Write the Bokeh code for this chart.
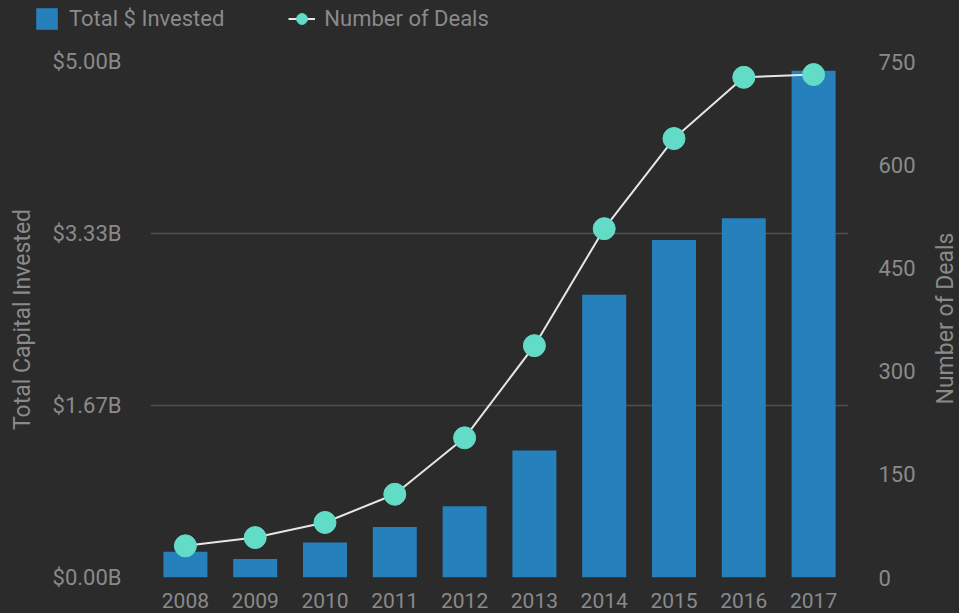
import math
from bokeh.plotting import figure
from bokeh.layouts import column
from bokeh.models import (Range1d, LinearAxis, FixedTicker, CustomJSTickFormatter,
                          Legend, LegendItem, ColumnDataSource, FactorRange, Label)
from bokeh.embed import file_html
from bokeh.resources import INLINE

years = ["2008", "2009", "2010", "2011", "2012", "2013", "2014", "2015", "2016", "2017"]
invested_billions = [0.25, 0.18, 0.34, 0.49, 0.69, 1.23, 2.74, 3.27, 3.48, 4.91]
deals = [46, 58, 80, 121, 203, 337, 507, 638, 727, 731]
left_ticks = [0, 5 / 3, 10 / 3, 5]
right_ticks = [0, 150, 300, 450, 600, 750]
series_names = ["Total $ Invested", "Number of Deals"]

BG = "#2b2b2b"
TXT = "#8a8a8a"
GRID = "#505050"
BAR = "#2580bb"
DOT = "#62dcc6"
LINE = "#e6e6e6"
FONT = "Roboto"

src = ColumnDataSource(dict(year=years, inv=invested_billions, deals=deals))

# ---- legend strip on top (hidden copies of the series, only their legend shows) ----
LEG_H = 40
pl = figure(width=959, height=LEG_H, output_backend="svg", toolbar_location=None,
            x_range=FactorRange(*years), y_range=Range1d(0, 750),
            x_axis_location=None, y_axis_location=None, min_border=0,
            background_fill_color=BG, border_fill_color=BG, outline_line_color=None)
pl.xgrid.grid_line_color = None
pl.ygrid.grid_line_color = None
lb = pl.vbar(x="year", top="inv", width=0.63, source=src, fill_color=BAR, line_color=None)
ll = pl.line(x="year", y="deals", source=src, line_color=LINE, line_width=2)
ls = pl.scatter(x="year", y="deals", source=src, size=22, fill_color=DOT, line_color=DOT)
for r in (lb, ll, ls):
    r.visible = False
legend = Legend(items=[LegendItem(label=series_names[0], renderers=[lb]),
                       LegendItem(label=series_names[1], renderers=[ll, ls])],
                orientation="horizontal", location=(33, 8),
                padding=0, margin=0, spacing=64, label_standoff=9,
                glyph_width=27, glyph_height=27, label_height=21,
                label_text_font=FONT, label_text_font_size="22px", label_text_color=TXT,
                background_fill_alpha=0, border_line_alpha=0, inactive_fill_alpha=0)
pl.add_layout(legend, "center")

# ---- main chart ----
p = figure(width=959, height=613 - LEG_H, x_range=FactorRange(*years), y_range=Range1d(0, 5),
           output_backend="svg", toolbar_location=None,
           min_border_left=150, min_border_right=111, min_border_top=61 - LEG_H, min_border_bottom=36,
           background_fill_color=BG, border_fill_color=BG, outline_line_color=None)
p.extra_y_ranges = {"deals": Range1d(0, 750)}

for fig in (pl, p):
    if "frame_align" in fig.properties():
        fig.frame_align = False

bars = p.vbar(x="year", top="inv", width=0.63, source=src, fill_color=BAR, line_color=None)
ln = p.line(x="year", y="deals", source=src, y_range_name="deals", line_color=LINE, line_width=2)
dots = p.scatter(x="year", y="deals", source=src, y_range_name="deals", size=22,
                 fill_color=DOT, line_color=DOT)

ya = p.yaxis[0]
ya.ticker = FixedTicker(ticks=left_ticks)
ya.formatter = CustomJSTickFormatter(code="return '$' + tick.toFixed(2) + 'B'")
ya.axis_label = "Total Capital Invested"

ra = LinearAxis(y_range_name="deals", ticker=FixedTicker(ticks=right_ticks))
p.add_layout(ra, "right")

for ax in [ya, ra]:
    ax.axis_line_color = None
    ax.major_tick_line_color = None
    ax.minor_tick_line_color = None
    ax.major_label_text_color = TXT
    ax.major_label_text_font = FONT
    ax.major_label_text_font_size = "22px"
    ax.axis_label_text_color = TXT
    ax.axis_label_text_font = FONT
    ax.axis_label_text_font_size = "23px"
    ax.axis_label_text_font_style = "normal"
ya.major_label_standoff = 23
ya.axis_label_standoff = 14
ra.major_label_standoff = 24

# right axis title, reading bottom-to-top like the reference
right_title = Label(x=945, y=278, x_units="canvas", y_units="canvas", text=series_names[1],
                    angle=math.pi / 2, text_align="center", text_baseline="middle",
                    text_color=TXT, text_font=FONT, text_font_size="23px")
p.add_layout(right_title, "right")

xa = p.xaxis[0]
xa.axis_line_color = None
xa.major_tick_line_color = None
xa.minor_tick_line_color = None
xa.major_label_text_color = TXT
xa.major_label_text_font = FONT
xa.major_label_text_font_size = "21px"
xa.major_label_standoff = 9

p.xgrid.grid_line_color = None
p.ygrid.grid_line_color = GRID
p.ygrid.grid_line_width = 1.5

layout = column(pl, p, spacing=0, styles={"background-color": BG})
open("out.html", "w").write(file_html(layout, INLINE))
